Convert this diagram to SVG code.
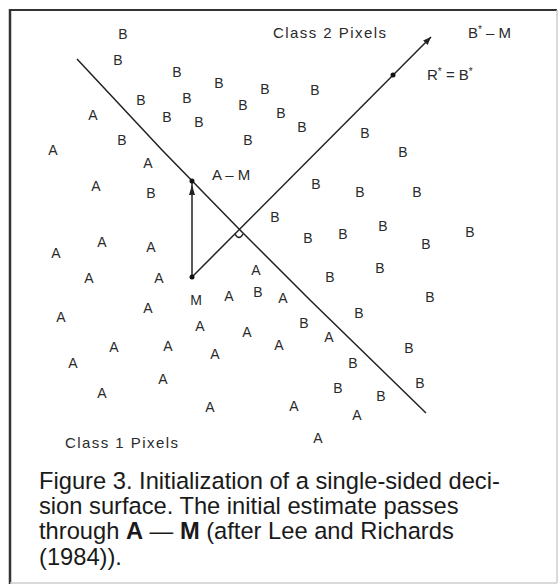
<svg xmlns="http://www.w3.org/2000/svg" width="560" height="586" viewBox="0 0 560 586">
<style>
.p{font-family:"Liberation Sans",Arial,sans-serif;font-size:14px;fill:#2a2a2a;text-anchor:middle}
.lbl{font-family:"Liberation Sans",Arial,sans-serif;font-size:15px;fill:#2a2a2a}
.cap{font-family:"Liberation Sans",Arial,sans-serif;font-size:23.7px;fill:#1a1a1a}
.ln{fill:none;stroke:#222;stroke-width:1.5}
.dot{fill:#111}
</style>
<defs>
<marker id="ah" viewBox="0 0 10 10" refX="10" refY="5" markerWidth="8" markerHeight="8" markerUnits="userSpaceOnUse" orient="auto">
<path d="M0,1 L10,5 L0,9 Z" fill="#222"/>
</marker>
</defs>
<rect x="0" y="0" width="560" height="586" fill="#fff"/>
<g id="frame">
<line x1="9" y1="10" x2="557" y2="10" stroke="#333" stroke-width="2"/>
<line x1="10" y1="9" x2="10" y2="584" stroke="#333" stroke-width="2.5"/>
<line x1="557" y1="10" x2="557" y2="583" stroke="#ccc" stroke-width="1.5"/>
<line x1="10" y1="583" x2="557" y2="583" stroke="#ccc" stroke-width="1.5"/>
</g>
<g id="connectors">
<path id="decision-line" class="ln" d="M77,59 L162,150 L240,230 L310,300 L426,413"/>
<line id="bm-vector" class="ln" x1="192" y1="277" x2="431" y2="37" marker-end="url(#ah)"/>
<line id="am-vector" class="ln" x1="192" y1="277" x2="192" y2="183"/>
<path d="M192,185 L189,195 L195,195 Z" fill="#222"/>
<path id="right-angle" class="ln" stroke-width="1.2" d="M235,234 Q239,241 243,234"/>
<circle class="dot" cx="192" cy="181" r="2.5"/>
<circle class="dot" cx="192" cy="277" r="2.5"/>
<circle class="dot" cx="393" cy="75" r="2.5"/>
</g>
<g id="labels">
<text class="lbl" x="273" y="38" textLength="113" lengthAdjust="spacing">Class 2 Pixels</text>
<text class="lbl" x="65" y="448" textLength="113" lengthAdjust="spacing">Class 1 Pixels</text>
<text class="lbl" x="468" y="38">B<tspan font-size="10" dy="-5">*</tspan><tspan dy="5"> – M</tspan></text>
<text class="lbl" x="427" y="80">R<tspan font-size="10" dy="-5">*</tspan><tspan dy="5"> = B</tspan><tspan font-size="10" dy="-5">*</tspan></text>
<text class="lbl" x="212" y="180">A – M</text>
<text class="p" x="196" y="305">M</text>
</g>
<g id="class-b">
<text class="p" x="123" y="39">B</text>
<text class="p" x="118" y="65">B</text>
<text class="p" x="177" y="77">B</text>
<text class="p" x="219" y="88">B</text>
<text class="p" x="265" y="94">B</text>
<text class="p" x="315" y="95">B</text>
<text class="p" x="141" y="105">B</text>
<text class="p" x="187" y="103">B</text>
<text class="p" x="243" y="110">B</text>
<text class="p" x="281" y="118">B</text>
<text class="p" x="167" y="122">B</text>
<text class="p" x="199" y="127">B</text>
<text class="p" x="302" y="132">B</text>
<text class="p" x="365" y="138">B</text>
<text class="p" x="122" y="145">B</text>
<text class="p" x="248" y="145">B</text>
<text class="p" x="403" y="157">B</text>
<text class="p" x="151" y="198">B</text>
<text class="p" x="316" y="189">B</text>
<text class="p" x="360" y="197">B</text>
<text class="p" x="417" y="197">B</text>
<text class="p" x="275" y="222">B</text>
<text class="p" x="383" y="231">B</text>
<text class="p" x="343" y="239">B</text>
<text class="p" x="308" y="243">B</text>
<text class="p" x="470" y="237">B</text>
<text class="p" x="426" y="249">B</text>
<text class="p" x="380" y="273">B</text>
<text class="p" x="330" y="282">B</text>
<text class="p" x="258" y="297">B</text>
<text class="p" x="430" y="302">B</text>
<text class="p" x="359" y="318">B</text>
<text class="p" x="304" y="328">B</text>
<text class="p" x="409" y="353">B</text>
<text class="p" x="353" y="368">B</text>
<text class="p" x="420" y="388">B</text>
<text class="p" x="338" y="393">B</text>
<text class="p" x="381" y="401">B</text>
</g>
<g id="class-a">
<text class="p" x="93" y="120">A</text>
<text class="p" x="53" y="155">A</text>
<text class="p" x="148" y="168">A</text>
<text class="p" x="96" y="191">A</text>
<text class="p" x="102" y="247">A</text>
<text class="p" x="56" y="258">A</text>
<text class="p" x="151" y="252">A</text>
<text class="p" x="89" y="283">A</text>
<text class="p" x="159" y="283">A</text>
<text class="p" x="256" y="275">A</text>
<text class="p" x="229" y="301">A</text>
<text class="p" x="283" y="303">A</text>
<text class="p" x="148" y="313">A</text>
<text class="p" x="61" y="322">A</text>
<text class="p" x="200" y="331">A</text>
<text class="p" x="247" y="337">A</text>
<text class="p" x="329" y="342">A</text>
<text class="p" x="114" y="352">A</text>
<text class="p" x="168" y="351">A</text>
<text class="p" x="215" y="359">A</text>
<text class="p" x="279" y="350">A</text>
<text class="p" x="73" y="368">A</text>
<text class="p" x="163" y="384">A</text>
<text class="p" x="102" y="398">A</text>
<text class="p" x="210" y="412">A</text>
<text class="p" x="294" y="411">A</text>
<text class="p" x="357" y="420">A</text>
<text class="p" x="318" y="443">A</text>
</g>
<g id="caption">
<text class="cap" x="39" y="489">Figure 3. Initialization of a single-sided deci-</text>
<text class="cap" x="39" y="514">sion surface. The initial estimate passes</text>
<text class="cap" x="39" y="539">through <tspan font-weight="bold">A</tspan> — <tspan font-weight="bold">M</tspan> (after Lee and Richards</text>
<text class="cap" x="39" y="565">(1984)).</text>
</g>
</svg>
